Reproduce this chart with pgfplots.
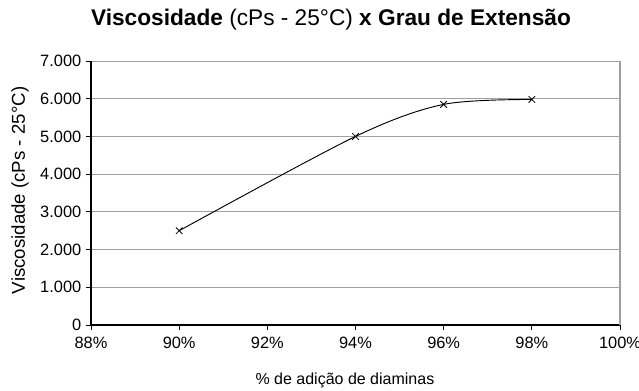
\documentclass[border=0pt]{standalone}
\usepackage{pgfplots}
\pgfplotsset{compat=1.18}
\usepackage{fontspec}
\setmainfont{Liberation Sans}
\begin{document}
\begin{tikzpicture}[x=0.75pt,y=0.75pt]
\path[use as bounding box] (-91,-65) rectangle (548,325);
\begin{axis}[
  at={(0,0)}, anchor=origin, scale only axis,
  width=396.75pt, height=198pt,
  xmin=88, xmax=100, ymin=0, ymax=7000,
  xtick={88,90,...,100}, ytick={0,1000,...,7000},
  axis x line*=bottom, axis y line*=left,
  axis line style={black, line width=0.8pt, -},
  tick align=outside, major tick length=3.75pt,
  tick style={black, line width=0.6pt},
  ymajorgrids, grid style={gray!75, line width=0.6pt},
  /pgf/number format/assume math mode=true,
  y tick label style={/pgf/number format/1000 sep={.}, font=\fontsize{12.3}{14}\selectfont},
  x tick label style={font=\fontsize{12.3}{14}\selectfont, yshift=-2pt},
  xticklabel={\pgfmathprintnumber{\tick}\%},
  xlabel={\% de adição de diaminas},
  ylabel={Viscosidade (cPs - 25°C)},
  xlabel style={font=\fontsize{12}{14}\selectfont, at={(axis description cs:0.48,-0.208)}, anchor=center},
  ylabel style={font=\fontsize{14}{16}\selectfont, at={(axis description cs:-0.134,0.51)}, anchor=center},
  clip=false,
]
\addplot[black, line width=0.7pt, smooth, mark=x, mark size=3.5pt, mark options={line width=0.6pt}]
  coordinates {(90,2500) (94,5000) (96,5850) (98,5980)};
\draw[gray!75, line width=0.8pt] (rel axis cs:1,0) -- (rel axis cs:1,1);
\end{axis}
\node[font=\fontsize{17}{19}\selectfont] at (240,305) {\textbf{Viscosidade} (cPs - 25°C) \textbf{x Grau de Extensão}};
\end{tikzpicture}
\end{document}
